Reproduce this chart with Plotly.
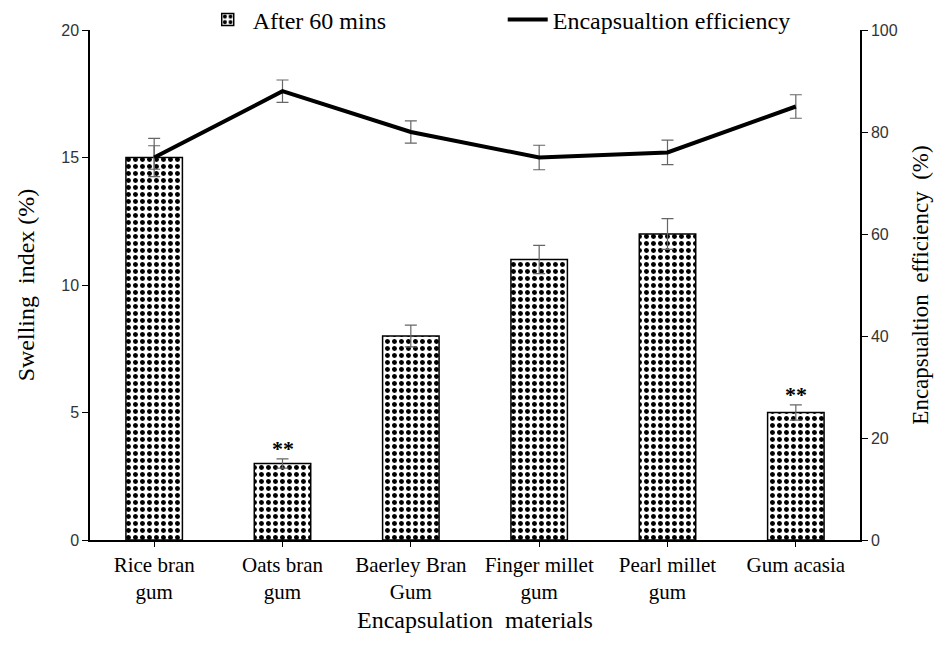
import plotly.graph_objects as go

categories = ["Rice bran<br>gum", "Oats bran<br>gum", "Baerley Bran<br>Gum",
              "Finger millet<br>gum", "Pearl millet<br>gum", "Gum acasia"]
swelling = [15, 3, 8, 11, 12, 5]
swelling_err = [0.75, 0.18, 0.43, 0.55, 0.6, 0.3]
efficiency = [75, 88, 80, 75, 76, 85]
efficiency_err = [2.3, 2.2, 2.2, 2.4, 2.4, 2.3]
marks = ["", "**", "", "", "", "**"]

serif = "Liberation Serif"
sans = "Liberation Sans"

fig = go.Figure()
fig.add_trace(go.Bar(
    x=categories, y=swelling, name="After 60 mins",
    marker=dict(color="white", line=dict(color="black", width=1.5),
                pattern=dict(shape=".", fgcolor="black", bgcolor="white",
                             size=7, solidity=0.4, fgopacity=1)),
    width=0.44,
    error_y=dict(type="data", array=swelling_err, color="#666666",
                 thickness=1.2, width=6),
))
fig.add_trace(go.Scatter(
    x=categories, y=efficiency, name="Encapsualtion efficiency",
    mode="lines", line=dict(color="black", width=4), yaxis="y2",
    error_y=dict(type="data", array=efficiency_err, color="#666666",
                 thickness=1.2, width=6),
))

for c, v, e, m in zip(categories, swelling, swelling_err, marks):
    if m:
        fig.add_annotation(x=c, y=v + e, yshift=10, text="<b>" + m + "</b>",
                           showarrow=False,
                           font=dict(family=serif, size=22, color="black"),
                           xref="x", yref="y")

fig.update_layout(
    width=936, height=642,
    margin=dict(l=82, r=84, t=22, b=110, autoexpand=False),
    plot_bgcolor="white", paper_bgcolor="white",
    showlegend=True,
    legend=dict(orientation="h", x=0.536, xanchor="center", y=1.02,
                yanchor="middle", font=dict(family=serif, size=24, color="black"),
                itemwidth=40, entrywidth=245, bgcolor="rgba(0,0,0,0)"),
    xaxis=dict(
        showline=True, linecolor="black", linewidth=1.5,
        ticks="outside", ticklen=5, tickcolor="black",
        tickfont=dict(family=serif, size=21, color="black"),
        title=dict(text="Encapsulation  materials",
                   font=dict(family=serif, size=24, color="black"), standoff=8),
    ),
    yaxis=dict(
        range=[0, 20], dtick=5, showgrid=False, zeroline=False,
        showline=True, linecolor="black", linewidth=1.5,
        ticks="outside", ticklen=6, tickcolor="black",
        tickfont=dict(family=sans, size=16, color="#333333"),
        title=dict(text="Swelling  index (%)",
                   font=dict(family=serif, size=24, color="black"), standoff=20),
    ),
    yaxis2=dict(
        range=[0, 100], dtick=20, overlaying="y", side="right", showgrid=False,
        zeroline=False, showline=True, linecolor="black", linewidth=1.5,
        ticks="outside", ticklen=6, tickcolor="black",
        tickfont=dict(family=sans, size=16, color="#333333"),
        title=dict(text="Encapsualtion  efficiency  (%)",
                   font=dict(family=serif, size=23, color="black"), standoff=15),
    ),
)

fig.write_html("out.html")
